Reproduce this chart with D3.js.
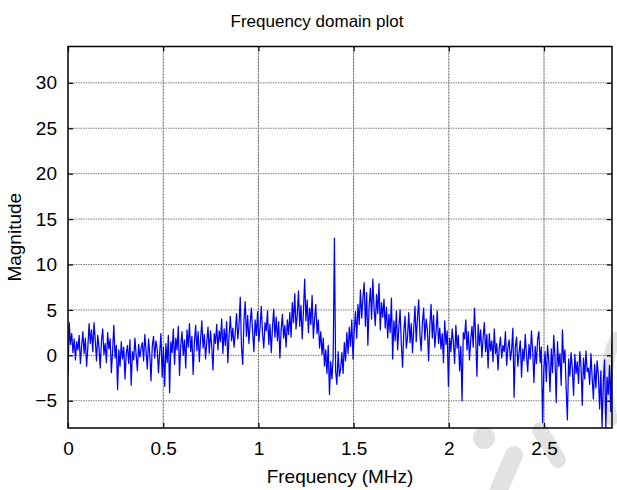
<!DOCTYPE html>
<html>
<head>
<meta charset="utf-8">
<script src="https://cdn.jsdelivr.net/npm/d3@7/dist/d3.min.js"></script>
<style>
  html, body { margin: 0; padding: 0; background: #fff; }
  svg { display: block; }
  text { font-family: "Liberation Sans", Arial, sans-serif; fill: #000; }
</style>
</head>
<body>
<svg id="chart" width="617" height="490"></svg>
<script>
// Spectrum magnitude, one row per block of 20 frequency bins
const magnitude = [
  -2.1, 3.6, 1.2, 2.4, 0.3, 1.8, -0.5, 1.5, 0.6, 2.2, -0.9, 1.0, 2.6, 0.2, 1.9, -1.2, 0.8, 3.5, 1.3, 2.8,
  0.4, 3.6, 1.7, -0.6, 2.2, 0.9, -1.4, 1.6, 2.9, 0.1, 1.3, -0.8, 2.5, 0.7, 1.8, -1.9, 0.5, 3.3, -0.3, 1.1,
  -3.8, 0.6, -1.2, 1.5, -0.4, 0.9, -2.6, 0.2, 1.1, -0.9, 1.7, -3.3, 0.4, -0.5, 1.9, 0.0, -1.7, 1.2, -0.2, 0.8,
  1.4, -0.6, 2.3, 0.5, -1.5, 1.8, 0.1, -2.8, 1.0, 2.1, -0.3, 1.6, 0.7, -1.9, 0.3, 2.4, -2.4, 0.9, -3.4, 1.3,
  -0.8, 2.2, -4.1, 1.5, 0.3, 2.9, -1.0, 1.9, 0.6, 3.2, -2.2, 1.1, 2.6, 0.0, 1.7, -1.4, 2.8, 0.9, 3.5, 0.4,
  2.1, -2.1, 1.4, 3.3, 0.5, 2.6, -0.7, 1.8, 3.8, 0.8, 2.3, -0.4, 1.5, 3.1, 0.2, 2.7, 1.0, -1.6, 2.4, 1.3,
  3.4, 0.6, 2.7, 1.5, 4.0, 0.2, 2.9, 1.1, 3.7, -0.8, 2.2, 4.3, 1.6, 3.0, 0.9, 2.5, 4.6, 1.8, 3.3, 6.4,
  0.9, -1.0, 3.8, 5.9, 2.1, 4.4, 1.3, 3.5, 5.2, 2.6, 0.4, 3.9, 2.2, 4.8, 1.5, 3.1, 5.4, 2.4, 0.8, 3.6,
  2.7, 4.9, 1.2, 3.4, 0.3, 3.0, 5.1, 2.0, 4.2, 1.6, 3.7, -0.3, 2.8, 4.5, 1.9, 3.3, 0.9, 3.9, 2.3, 4.7,
  2.0, 5.8, 3.6, 6.8, 2.9, 4.4, 7.1, 3.2, 5.5, 1.8, 4.9, 8.4, 3.8, 6.1, 2.5, 5.2, 3.4, 6.6, 1.9, 4.1,
  5.6, 2.4, 3.9, 0.8, 2.6, 0.1, 1.9, -1.2, 0.6, -2.0, 1.1, -4.3, -0.7, -2.6, -0.2, 12.9, -1.8, -3.2, 0.4, -2.3,
  -1.5, 0.3, -2.0, 1.4, -0.6, 2.5, 0.2, 3.1, 1.0, 3.9, -0.4, 2.7, 4.8, 1.9, 5.6, 3.4, 7.2, 4.1, 6.3, 8.0,
  3.2, 6.9, 1.1, 5.4, 7.4, 4.0, 8.4, 5.1, 3.3, 6.7, 4.6, 7.9, 2.8, 5.8, 4.2, 6.2, 3.0, 5.3, 1.9, 4.5,
  2.5, 6.3, -0.4, 3.8, 1.6, 4.9, 0.6, 3.1, 5.0, 1.2, -1.3, 2.7, 4.3, 0.8, 2.0, 4.7, 1.4, 3.5, 0.3, 2.9,
  5.4, 1.5, 4.1, 6.1, 2.3, 0.5, 3.6, 5.2, 1.7, 4.0, 2.8, -0.6, 3.3, 5.6, 1.9, 4.4, 0.9, 2.6, 4.9, 1.3,
  3.0, 0.7, 2.4, -0.8, 3.8, 1.2, 2.7, -3.4, 1.9, 0.4, 2.9, 1.5, -0.9, 3.3, 0.8, 2.2, -1.7, 1.0, -5.0, 2.5,
  1.8, 3.9, 0.6, 2.6, -0.5, 1.7, 3.2, 0.9, 5.2, 2.0, -2.3, 3.4, 1.1, 2.8, -0.2, 1.9, 3.6, 0.4, 2.3, -1.4,
  2.4, 0.5, 1.6, -0.7, 2.9, 0.2, 1.3, -1.6, 0.8, 2.0, -0.3, 1.1, 0.4, 2.6, -1.1, 0.9, 1.7, -0.5, 0.6, 3.0,
  -4.6, 0.9, 2.0, -1.2, 0.3, 1.6, -2.4, 0.7, -0.6, 2.3, 0.1, -1.8, 1.2, -0.4, 2.7, 0.5, -3.0, 1.0, -0.9, 1.8,
  2.6, -0.8, 0.9, -7.4, -1.5, 0.4, -2.9, 1.1, -0.6, -4.0, 0.7, -1.9, 2.2, -0.3, -5.2, 1.5, -1.2, 0.2, -3.3, 2.8,
  -0.8, 0.6, -3.6, -7.1, -0.4, -2.3, 0.3, -1.5, -4.4, 0.1, -2.0, -0.7, -3.1, 0.4, -1.2, -5.5, -0.3, -2.6, 0.5, -1.8,
  -1.4, -3.2, 0.2, -2.5, -4.8, -1.0, -3.6, -0.6, -2.2, -5.9, -1.7, -7.9, -3.0, -0.5, -8.0, -2.4, -4.3, -1.1, -6.2, 1.5
];

// Highest frequency bin (MHz); bins are evenly spaced from 0
const maxFrequency = 2.857;

const xTicks = [0, 0.5, 1, 1.5, 2, 2.5];
const yTicks = [-5, 0, 5, 10, 15, 20, 25, 30];
const yRange = [-8, 34];

const titleText = "Frequency domain plot";
const xLabelText = "Frequency (MHz)";
const yLabelText = "Magnitude";

const svg = d3.select("#chart");
const W = 617, H = 490;
const margin = { left: 68, right: 5, top: 46.5, bottom: 62 };
const pw = W - margin.left - margin.right;
const ph = H - margin.top - margin.bottom;

// faint stamp in the lower right corner, behind the figure
const stamp = svg.append("g").attr("fill", "none").attr("stroke", "#e2e2e2").attr("stroke-linecap", "round");
stamp.append("circle").attr("cx", 484).attr("cy", 438).attr("r", 11).attr("fill", "#e2e2e2").attr("stroke", "none");
stamp.append("line").attr("x1", 514).attr("y1", 455).attr("x2", 498).attr("y2", 492).attr("stroke-width", 18);
stamp.append("line").attr("x1", 540).attr("y1", 430).attr("x2", 558).attr("y2", 460).attr("stroke-width", 16);
stamp.append("path").attr("d", "M616,338 Q600,370 612,420").attr("stroke-width", 12);

const binWidth = maxFrequency / (magnitude.length - 1);
const points = magnitude.map((m, i) => ({ f: i * binWidth, m }));

const x = d3.scaleLinear().domain([0, maxFrequency]).range([0, pw]);
const y = d3.scaleLinear().domain(yRange).range([ph, 0]);

const g = svg.append("g").attr("transform", `translate(${margin.left},${margin.top})`);

// grid
g.append("g").selectAll("line").data(xTicks.filter(d => d > 0)).join("line")
  .attr("x1", d => x(d)).attr("x2", d => x(d))
  .attr("y1", 0).attr("y2", ph)
  .attr("stroke", "#555").attr("stroke-width", 1)
  .attr("stroke-dasharray", "2,1");
g.append("g").selectAll("line").data(yTicks).join("line")
  .attr("x1", 0).attr("x2", pw)
  .attr("y1", d => y(d)).attr("y2", d => y(d))
  .attr("stroke", "#7a7a7a").attr("stroke-width", 1)
  .attr("stroke-dasharray", "1.5,1");

// signal
const clipId = "plotClip";
svg.append("defs").append("clipPath").attr("id", clipId)
  .append("rect").attr("width", pw).attr("height", ph);

g.append("path")
  .datum(points)
  .attr("clip-path", `url(#${clipId})`)
  .attr("fill", "none")
  .attr("stroke", "#0000ff")
  .attr("stroke-width", 1.25)
  .attr("stroke-linejoin", "round")
  .attr("d", d3.line().x(d => x(d.f)).y(d => y(d.m)));

// axes with inward ticks on all four sides
const tick = 5;
const xb = g.append("g").attr("transform", `translate(0,${ph})`)
  .call(d3.axisBottom(x).tickValues(xTicks).tickSizeInner(-tick).tickSizeOuter(0).tickPadding(14).tickFormat(d3.format("")));
const xt = g.append("g")
  .call(d3.axisTop(x).tickValues(xTicks).tickSizeInner(-tick).tickSizeOuter(0).tickFormat(""));
const yl = g.append("g")
  .call(d3.axisLeft(y).tickValues(yTicks).tickSizeInner(-tick).tickSizeOuter(0).tickPadding(11));
const yr = g.append("g").attr("transform", `translate(${pw},0)`)
  .call(d3.axisRight(y).tickValues(yTicks).tickSizeInner(-tick).tickSizeOuter(0).tickFormat(""));

[xb, xt, yl, yr].forEach(a => {
  a.select(".domain").remove();
  a.selectAll(".tick line").attr("stroke", "#000").attr("stroke-width", 1.2);
  a.selectAll("text").style("font-family", '"Liberation Sans", Arial, sans-serif')
    .style("font-size", "19px").attr("fill", "#000");
});

// frame
g.append("rect").attr("width", pw).attr("height", ph)
  .attr("fill", "none").attr("stroke", "#000").attr("stroke-width", 1.5);

// titles
svg.append("text").attr("x", 317).attr("y", 27).attr("text-anchor", "middle")
  .style("font-size", "17px").text(titleText);
svg.append("text").attr("x", margin.left + pw / 2).attr("y", 483).attr("text-anchor", "middle")
  .style("font-size", "19px").text(xLabelText);
svg.append("text").attr("transform", `translate(21,${margin.top + ph / 2}) rotate(-90)`)
  .attr("text-anchor", "middle").style("font-size", "19px").text(yLabelText);
</script>
</body>
</html>
